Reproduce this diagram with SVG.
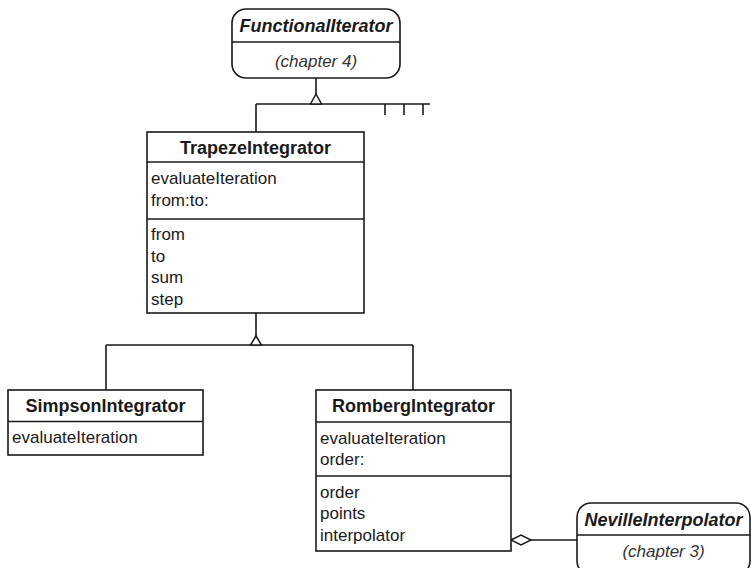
<svg xmlns="http://www.w3.org/2000/svg" width="752" height="568" viewBox="0 0 752 568">
<style>
  .box{fill:#fff;stroke:#1a1a1a;stroke-width:1.6}
  .ln{fill:none;stroke:#1a1a1a;stroke-width:1.6}
  .tri{fill:#fff;stroke:#1a1a1a;stroke-width:1.5;stroke-linejoin:miter}
  .title{font-family:"Liberation Sans",Arial,sans-serif;font-size:18px;font-weight:bold;fill:#1a1a1a;text-anchor:middle}
  .ititle{font-family:"Liberation Sans",Arial,sans-serif;font-size:18px;font-weight:bold;font-style:italic;fill:#1a1a1a;text-anchor:middle}
  .txt{font-family:"Liberation Sans",Arial,sans-serif;font-size:17px;fill:#1a1a1a}
  .note{font-family:"Liberation Sans",Arial,sans-serif;font-size:17px;font-style:italic;fill:#333;text-anchor:middle}
</style>
<rect width="752" height="568" fill="#fff"/>
<g id="connectors">
  <path class="ln" d="M316,78 V94 M256,104 H430 M256,104 V132 M385,104 V115 M404,104 V115 M423,104 V115"/>
  <polygon class="tri" points="316,94 310.5,104 321.5,104"/>
  <path class="ln" d="M256,313 V336 M106,345 H413 M106,345 V390 M413,345 V390"/>
  <polygon class="tri" points="256,336 250.5,345 261.5,345"/>
  <path class="ln" d="M531,540 H577"/>
  <polygon class="tri" points="511,540 521,535 531,540 521,545"/>
</g>
<g id="FunctionalIterator">
  <rect class="box" x="232" y="9" width="168" height="69" rx="14" ry="14"/>
  <line class="ln" x1="232" y1="42" x2="400" y2="42"/>
  <text class="ititle" x="316" y="31.5">FunctionalIterator</text>
  <text class="note" x="316" y="67">(chapter 4)</text>
</g>
<g id="TrapezeIntegrator">
  <rect class="box" x="147" y="132" width="217" height="181"/>
  <line class="ln" x1="147" y1="162" x2="364" y2="162"/>
  <line class="ln" x1="147" y1="219" x2="364" y2="219"/>
  <text class="title" x="255.5" y="153.5">TrapezeIntegrator</text>
  <text class="txt" x="151" y="184">evaluateIteration</text>
  <text class="txt" x="151" y="206">from:to:</text>
  <text class="txt" x="151" y="240">from</text>
  <text class="txt" x="151" y="261.5">to</text>
  <text class="txt" x="151" y="283">sum</text>
  <text class="txt" x="151" y="304.5">step</text>
</g>
<g id="SimpsonIntegrator">
  <rect class="box" x="8" y="390" width="195" height="65"/>
  <line class="ln" x1="8" y1="421.5" x2="203" y2="421.5"/>
  <text class="title" x="105.5" y="412">SimpsonIntegrator</text>
  <text class="txt" x="12" y="443">evaluateIteration</text>
</g>
<g id="RombergIntegrator">
  <rect class="box" x="316" y="390" width="195" height="161"/>
  <line class="ln" x1="316" y1="422" x2="511" y2="422"/>
  <line class="ln" x1="316" y1="476" x2="511" y2="476"/>
  <text class="title" x="413.5" y="412">RombergIntegrator</text>
  <text class="txt" x="320" y="443.5">evaluateIteration</text>
  <text class="txt" x="320" y="465">order:</text>
  <text class="txt" x="320" y="497.5">order</text>
  <text class="txt" x="320" y="519">points</text>
  <text class="txt" x="320" y="540.5">interpolator</text>
</g>
<g id="NevilleInterpolator">
  <rect class="box" x="577" y="503" width="173" height="72" rx="14" ry="14"/>
  <line class="ln" x1="577" y1="535" x2="750" y2="535"/>
  <text class="ititle" x="663.5" y="525.5">NevilleInterpolator</text>
  <text class="note" x="663.5" y="557">(chapter 3)</text>
</g>
</svg>
